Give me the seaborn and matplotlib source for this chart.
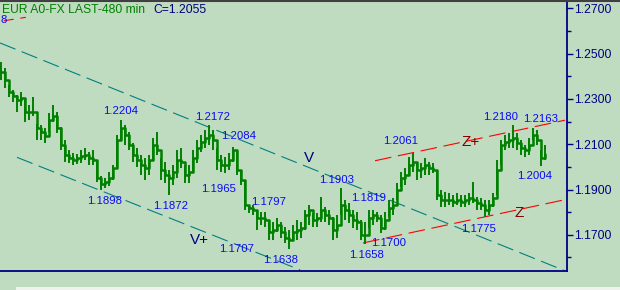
import numpy as np
import pandas as pd
import matplotlib
matplotlib.use("Agg")
import matplotlib.pyplot as plt
import seaborn as sns
from matplotlib.ticker import FormatStrFormatter, FixedLocator, NullFormatter

# ---------------- data ----------------
highs = [1.2463, 1.2436, 1.2361, 1.2339, 1.2317, 1.2330, 1.2295, 1.2273, 1.2308, 1.2189,
         1.2185, 1.2171, 1.2238, 1.2273, 1.2242, 1.2176, 1.2118, 1.2074, 1.2061, 1.2057,
         1.2074, 1.2083, 1.2066, 1.2074, 1.2030, 1.1960, 1.1951, 1.1977, 1.2008, 1.2141,
         1.2207, 1.2185, 1.2154, 1.2105, 1.2083, 1.2052, 1.2039, 1.2052, 1.2127, 1.2154,
         1.2039, 1.2021, 1.1986, 1.2008, 1.2074, 1.2083, 1.2008, 1.2008, 1.2074, 1.2118,
         1.2141, 1.2163, 1.2185, 1.2163, 1.2083, 1.2052, 1.2043, 1.2061, 1.2088, 1.2066,
         1.1986, 1.1942, 1.1832, 1.1832, 1.1809, 1.1801, 1.1801, 1.1765, 1.1756, 1.1774,
         1.1756, 1.1734, 1.1721, 1.1743, 1.1765, 1.1756, 1.1809, 1.1832, 1.1796, 1.1796,
         1.1867, 1.1823, 1.1809, 1.1779, 1.1787, 1.1907, 1.1854, 1.1840, 1.1809, 1.1801,
         1.1765, 1.1756, 1.1809, 1.1809, 1.1801, 1.1787, 1.1801, 1.1854, 1.1862, 1.1929,
         1.1977, 1.1995, 1.2043, 1.2061, 1.2017, 1.2017, 1.2039, 1.2021, 1.2017, 1.1986,
         1.1898, 1.1889, 1.1884, 1.1876, 1.1884, 1.1876, 1.1876, 1.1884, 1.1933, 1.1867,
         1.1862, 1.1854, 1.1854, 1.1884, 1.2030, 1.2118, 1.2141, 1.2149, 1.2185, 1.2149,
         1.2118, 1.2096, 1.2127, 1.2171, 1.2163, 1.2074, 1.2096]
lows = [1.2383, 1.2348, 1.2308, 1.2286, 1.2242, 1.2269, 1.2198, 1.2207, 1.2224, 1.2118,
        1.2118, 1.2105, 1.2154, 1.2198, 1.2149, 1.2074, 1.2021, 1.2017, 1.2008, 1.2013,
        1.2017, 1.2030, 1.2008, 1.2008, 1.1933, 1.1898, 1.1907, 1.1915, 1.1942, 1.1995,
        1.2118, 1.2096, 1.2074, 1.2021, 1.1999, 1.1964, 1.1942, 1.1964, 1.2030, 1.2052,
        1.1942, 1.1929, 1.1876, 1.1920, 1.1951, 1.1995, 1.1929, 1.1929, 1.1977, 1.2017,
        1.2066, 1.2083, 1.2096, 1.2074, 1.1986, 1.1977, 1.1973, 1.1986, 1.2021, 1.1964,
        1.1920, 1.1809, 1.1796, 1.1787, 1.1721, 1.1743, 1.1734, 1.1677, 1.1677, 1.1712,
        1.1686, 1.1664, 1.1637, 1.1677, 1.1677, 1.1686, 1.1721, 1.1743, 1.1734, 1.1734,
        1.1756, 1.1756, 1.1743, 1.1677, 1.1686, 1.1787, 1.1765, 1.1752, 1.1730, 1.1721,
        1.1677, 1.1659, 1.1730, 1.1743, 1.1756, 1.1708, 1.1721, 1.1779, 1.1787, 1.1854,
        1.1911, 1.1920, 1.1964, 1.1977, 1.1942, 1.1951, 1.1964, 1.1964, 1.1973, 1.1854,
        1.1823, 1.1823, 1.1832, 1.1823, 1.1832, 1.1823, 1.1823, 1.1832, 1.1840, 1.1809,
        1.1809, 1.1779, 1.1787, 1.1823, 1.1876, 1.2008, 1.2074, 1.2083, 1.2083, 1.2074,
        1.2052, 1.2043, 1.2052, 1.2118, 1.2096, 1.2004, 1.2030]
closes = [1.2419, 1.2383, 1.2330, 1.2313, 1.2295, 1.2304, 1.2242, 1.2242, 1.2242, 1.2171,
          1.2154, 1.2136, 1.2207, 1.2224, 1.2171, 1.2096, 1.2052, 1.2039, 1.2030, 1.2039,
          1.2048, 1.2052, 1.2039, 1.2030, 1.1951, 1.1924, 1.1933, 1.1951, 1.1995, 1.2118,
          1.2171, 1.2141, 1.2096, 1.2052, 1.2030, 1.2008, 1.1995, 1.2030, 1.2096, 1.2074,
          1.1986, 1.1964, 1.1951, 1.1977, 1.2030, 1.2021, 1.1964, 1.1977, 1.2039, 1.2083,
          1.2110, 1.2127, 1.2141, 1.2118, 1.2030, 1.2008, 1.2008, 1.2030, 1.2074, 1.1986,
          1.1942, 1.1832, 1.1818, 1.1809, 1.1774, 1.1774, 1.1765, 1.1712, 1.1721, 1.1743,
          1.1712, 1.1686, 1.1677, 1.1712, 1.1721, 1.1730, 1.1787, 1.1809, 1.1765, 1.1774,
          1.1809, 1.1787, 1.1774, 1.1721, 1.1743, 1.1832, 1.1809, 1.1787, 1.1765, 1.1756,
          1.1699, 1.1699, 1.1774, 1.1787, 1.1774, 1.1730, 1.1765, 1.1818, 1.1832, 1.1898,
          1.1951, 1.1964, 1.2008, 1.2021, 1.1986, 1.1995, 1.2008, 1.1995, 1.1986, 1.1876,
          1.1854, 1.1854, 1.1854, 1.1845, 1.1854, 1.1845, 1.1854, 1.1862, 1.1854, 1.1840,
          1.1832, 1.1809, 1.1832, 1.1862, 1.1986, 1.2096, 1.2110, 1.2118, 1.2127, 1.2105,
          1.2083, 1.2074, 1.2096, 1.2141, 1.2118, 1.2039, 1.2055]

# trend lines: (bar index, price) endpoints
v_line_x = [-0.25, 141.0]
v_line_y = [1.2547, 1.1541]
vplus_line_x = [4.0, 74.8]
vplus_line_y = [1.2042, 1.1545]
zplus_line_x = [93.5, 141.0]
zplus_line_y = [1.2027, 1.2206]
z_line_x = [90.5, 141.5]
z_line_y = [1.1664, 1.1857]
old_line_x = [0.7, 6.2]
old_line_y = [1.2645, 1.2660]

level_labels = ["1.2204", "1.2172", "1.2084", "1.1965", "1.1898", "1.1872", "1.1707",
                "1.1638", "1.1797", "1.1903", "1.1819", "1.1658", "1.1700", "1.1775",
                "1.2061", "1.2180", "1.2163", "1.2004"]
level_x = [30.0, 53.0, 59.5, 54.5, 26.0, 42.5, 59.0, 70.0, 67.0, 84.0, 92.0, 91.3,
           97.0, 119.5, 100.0, 124.8, 135.0, 133.3]
level_y = [1.2247, 1.2220, 1.2136, 1.1902, 1.1849, 1.1827, 1.1637, 1.1589, 1.1845,
           1.1942, 1.1862, 1.1611, 1.1664, 1.1726, 1.2114, 1.2220, 1.2211, 1.1960]

wave_labels = ["V", "V+", "Z+", "Z"]
wave_x = [77.0, 49.5, 117.3, 129.5]
wave_y = [1.2039, 1.1677, 1.2110, 1.1796]

edge_label = "8"
title_text = "EUR A0-FX LAST-480 min"
close_text = "C=1.2055"
price_ticks = [1.1700, 1.1900, 1.2100, 1.2300, 1.2500, 1.2700]

# ---------------- style ----------------
BG = "#C0DCC0"
GREEN = "#008000"
NAVY = "#000080"
BLUE = "#0A0AF5"
TEAL = "#008080"
RED = "#FF0000"
DARKRED = "#800000"

sns.set_style("white")
plt.rcParams["font.family"] = ["Liberation Sans", "DejaVu Sans"]

fig = plt.figure(figsize=(6.2, 2.9), dpi=100, facecolor=BG)
ax = fig.add_axes([0, 19 / 290, 567 / 620, 271 / 290])
ax.set_facecolor(BG)

bars = np.arange(len(closes))
df = pd.DataFrame({"bar": bars, "high": highs, "low": lows, "close": closes})

ax.vlines(df["bar"], df["low"], df["high"], color=GREEN, lw=1.4, zorder=3)
sns.lineplot(data=df, x="bar", y="close", drawstyle="steps-post", color=GREEN,
             lw=1.8, ax=ax, zorder=3)

ls = (0, (15, 6))
ax.plot(v_line_x, v_line_y, color=TEAL, lw=0.8, linestyle=ls, zorder=2)
ax.plot(vplus_line_x, vplus_line_y, color=TEAL, lw=0.8, linestyle=ls, zorder=2)
ax.plot(zplus_line_x, zplus_line_y, color=RED, lw=0.8, linestyle=ls, zorder=2)
ax.plot(z_line_x, z_line_y, color=RED, lw=0.8, linestyle=ls, zorder=2)
ax.plot(old_line_x, old_line_y, color=RED, lw=0.8, linestyle=(0, (9, 6)), zorder=2)

for t, x, y in zip(level_labels, level_x, level_y):
    ax.text(x, y, t, color=BLUE, fontsize=8.2, ha="center", va="center", zorder=4)
for t, x, y in zip(wave_labels, wave_x, wave_y):
    c = NAVY if t.startswith("V") else DARKRED
    ax.text(x, y, t, color=c, fontsize=11, ha="center", va="center", zorder=4)
fig.text(0.5 / 620, 1 - 20 / 290, edge_label, color=BLUE, fontsize=8.2, ha="left",
         va="center")

ax.set_xlim(-0.25, 141.5)
ax.set_ylim(1.15402, 1.27366)

# axes styling
for s in ["top", "left"]:
    ax.spines[s].set_visible(False)
for s in ["right", "bottom"]:
    ax.spines[s].set_color(NAVY)
    ax.spines[s].set_linewidth(1.3)

ax.yaxis.tick_right()
ax.yaxis.set_major_locator(FixedLocator(price_ticks))
ax.yaxis.set_major_formatter(FormatStrFormatter("%.4f"))
ax.yaxis.set_minor_locator(FixedLocator([p + 0.01 for p in price_ticks[:-1]] + [1.16]))
ax.tick_params(axis="y", which="major", direction="out", length=4, width=1,
               color=NAVY, labelcolor=NAVY, labelsize=8.7, pad=1)
ax.tick_params(axis="y", which="minor", direction="out", length=3, width=1, color=NAVY)

xt = (np.arange(5.5, 565, 7.52)) / 4 - 0.25
ax.xaxis.set_major_locator(FixedLocator(xt))
ax.xaxis.set_major_formatter(NullFormatter())
ax.tick_params(axis="x", which="major", direction="out", length=4.8, width=1,
               color=NAVY, labelbottom=False)
ax.set_xlabel("")
ax.set_ylabel("")
ax.grid(False)

fig.text(2 / 620, 1 - 10 / 290, title_text, color=GREEN, fontsize=8.7, va="center", ha="left")
fig.text(153 / 620, 1 - 10 / 290, close_text, color=NAVY, fontsize=8.7, va="center", ha="left")

# top border and bottom strip
fig.add_artist(plt.Line2D([0, 1], [1 - 0.6 / 290, 1 - 0.6 / 290], color="#404040", lw=1.5,
                          transform=fig.transFigure))
fig.add_artist(plt.Rectangle((16 / 620, 0), 604 / 620, 3 / 290, color="#EEF3EE",
                             transform=fig.transFigure, lw=0))

fig.savefig("out.png", dpi=100, facecolor=BG)
